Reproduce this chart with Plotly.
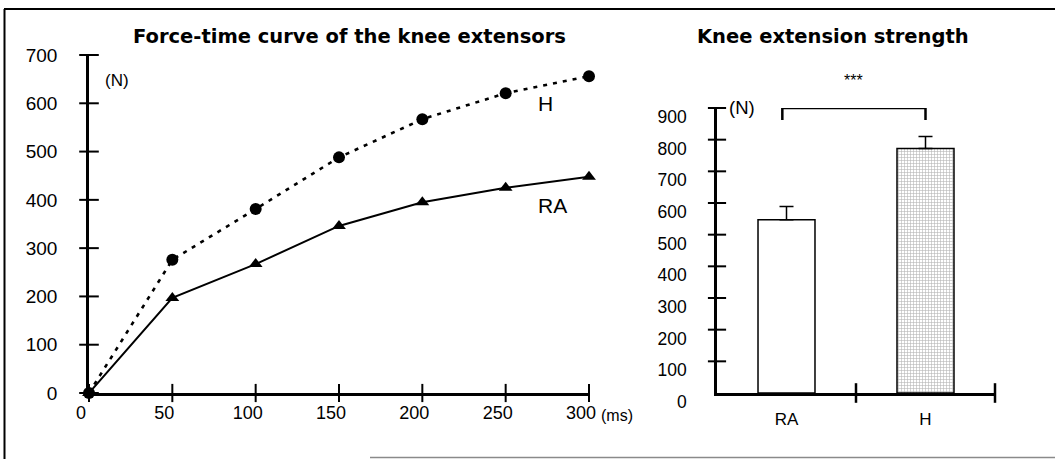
import plotly.graph_objects as go

# ---------------- data ----------------
time_ms = [0, 50, 100, 150, 200, 250, 300]
force_H = [0, 276, 381, 488, 567, 621, 656]
force_RA = [0, 197, 267, 346, 395, 425, 448]

groups = ["RA", "H"]
strength_mean = [547, 772]
strength_sd = [42, 38]

left_yticks = [0, 100, 200, 300, 400, 500, 600, 700]
left_xticks = [0, 50, 100, 150, 200, 250, 300]
right_yticks = [0, 100, 200, 300, 400, 500, 600, 700, 800, 900]

W, H = 1055, 459


def px_x(p):
    return p / W


def px_y(p):
    return 1 - p / H


FONT = "Liberation Sans, Arial, sans-serif"
TFONT = "DejaVu Sans, Liberation Sans, sans-serif"
AX_W = 2.5

fig = go.Figure()

# ---- left chart: force-time curves ----
fig.add_trace(go.Scatter(
    x=time_ms, y=force_H, mode="lines+markers",
    line=dict(color="black", width=2.6, dash="4px,6px"),
    marker=dict(symbol="circle", size=12, color="black"),
    cliponaxis=False, showlegend=False, xaxis="x", yaxis="y"))
fig.add_trace(go.Scatter(
    x=time_ms, y=force_RA, mode="lines+markers",
    line=dict(color="black", width=2),
    marker=dict(symbol="triangle-up", size=12, color="black"),
    cliponaxis=False, showlegend=False, xaxis="x", yaxis="y"))

# crossing tick marks, left chart
fig.add_trace(go.Scatter(
    x=[0] * len(left_yticks), y=left_yticks, mode="markers",
    marker=dict(symbol="line-ew", size=14, line=dict(color="black", width=2)),
    cliponaxis=False, showlegend=False, hoverinfo="skip", xaxis="x", yaxis="y"))
fig.add_trace(go.Scatter(
    x=left_xticks, y=[0] * len(left_xticks), mode="markers",
    marker=dict(symbol="line-ns", size=13, line=dict(color="black", width=2)),
    cliponaxis=False, showlegend=False, hoverinfo="skip", xaxis="x", yaxis="y"))

# ---- right chart: bars ----
bar_x = list(range(len(groups)))
fig.add_trace(go.Bar(
    x=bar_x, y=strength_mean, width=0.41,
    marker=dict(
        color=["white", "#b4b4b4"],
        line=dict(color="black", width=1.5),
        pattern=dict(shape=["", "+"], size=3, solidity=0.35,
                     fgcolor="#6e6e6e", bgcolor="#bfbfbf")),
    error_y=dict(type="data", array=strength_sd, arrayminus=[0, 0],
                 symmetric=False, color="black", thickness=1.5, width=7),
    showlegend=False, xaxis="x2", yaxis="y2"))

fig.add_trace(go.Scatter(
    x=[-0.5] * (len(right_yticks) - 1), y=right_yticks[1:], mode="markers",
    marker=dict(symbol="line-ew", size=13, line=dict(color="black", width=2)),
    cliponaxis=False, showlegend=False, hoverinfo="skip", xaxis="x2", yaxis="y2"))
fig.add_trace(go.Scatter(
    x=[0.5, 1.5], y=[0, 0], mode="markers",
    marker=dict(symbol="line-ns", size=14, line=dict(color="black", width=2.5)),
    cliponaxis=False, showlegend=False, hoverinfo="skip", xaxis="x2", yaxis="y2"))

axis_common = dict(showgrid=False, zeroline=False, showline=True,
                   linecolor="black", linewidth=AX_W, ticks="",
                   automargin=False)


def tf(size):
    return dict(family=FONT, size=size, color="black")


fig.update_layout(
    template="none",
    width=W, height=H,
    margin=dict(l=0, r=0, t=0, b=0, pad=0),
    paper_bgcolor="white", plot_bgcolor="white",
    font=dict(family=FONT, color="black"),
    xaxis=dict(domain=[px_x(89), px_x(589)], range=[0, 300],
               tickvals=left_xticks, ticklabelstandoff=2, ticklabelshift=-8,
               tickfont=tf(18), anchor="y", **axis_common),
    yaxis=dict(domain=[px_y(393), px_y(55)], range=[0, 700],
               tickvals=left_yticks, ticklabelstandoff=25,
               tickfont=tf(19), anchor="x", **axis_common),
    xaxis2=dict(domain=[px_x(717), px_x(995)], range=[-0.5, 1.5],
                tickvals=bar_x, ticktext=groups, ticklabelstandoff=9,
                tickfont=tf(17), anchor="y2", **axis_common),
    yaxis2=dict(domain=[px_y(393), px_y(108)], range=[0, 900],
                tickvals=right_yticks, ticklabelstandoff=24, ticklabelshift=9,
                tickfont=tf(17.5), anchor="x2", **axis_common),
)

# significance bracket
fig.add_shape(type="path", xref="x2", yref="y2",
              path="M -0.03,862 L -0.03,900 L 1.0,900 L 1.0,862",
              line=dict(color="black", width=2.5))

# frame
fig.add_shape(type="line", xref="paper", yref="paper",
              x0=px_x(4), x1=1, y0=px_y(9), y1=px_y(9),
              line=dict(color="black", width=2))
fig.add_shape(type="line", xref="paper", yref="paper",
              x0=px_x(4.5), x1=px_x(4.5), y0=px_y(9), y1=0,
              line=dict(color="black", width=2))
fig.add_shape(type="line", xref="paper", yref="paper",
              x0=px_x(370), x1=1, y0=px_y(457.5), y1=px_y(457.5),
              line=dict(color="#8a8a8a", width=1.5))


def ann(text, x, y, size, bold=False, xanchor="center", family=FONT):
    fig.add_annotation(text=f"<b>{text}</b>" if bold else text,
                       xref="paper", yref="paper", x=px_x(x), y=px_y(y),
                       xanchor=xanchor, yanchor="middle", showarrow=False,
                       font=dict(family=family, size=size, color="black"))


ann("Force-time curve of the knee extensors", 349, 37, 19.5, bold=True, family=TFONT)
ann("Knee extension strength", 833, 37, 19.5, bold=True, family=TFONT)
ann("(N)", 103, 80, 17, xanchor="left")
ann("(ms)", 599, 415, 16, xanchor="left")
ann("H", 545, 104, 21)
ann("RA", 552, 205, 21)
ann("(N)", 727, 107, 18.5, xanchor="left")
ann("***", 853, 80, 16)

fig.write_html("out.html", config={"displayModeBar": False},
               post_script="document.body.style.margin='0';")
